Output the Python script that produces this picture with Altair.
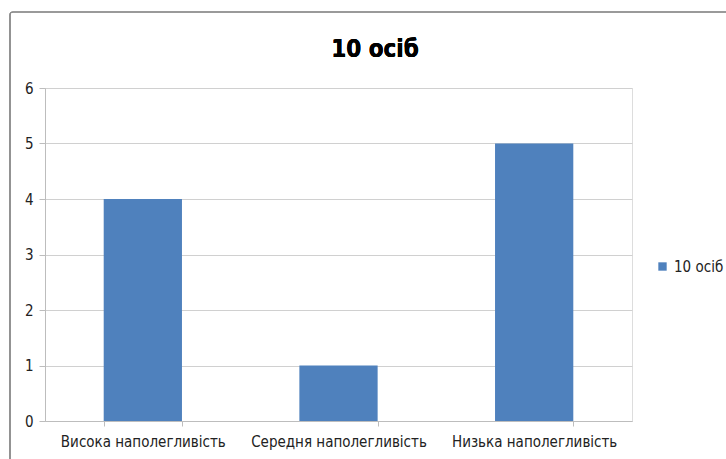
import altair as alt
import pandas as pd

# Survey result: number of people at each level of persistence
categories = ["Висока наполегливість", "Середня наполегливість", "Низька наполегливість"]
values = [4, 1, 5]
series_name = "10 осіб"

FONT = "Liberation Sans Narrow, DejaVu Sans Condensed, sans-serif"
BAR_BLUE = "#4F81BD"
GRID_GRAY = "#D0D0D0"
AXIS_GRAY = "#BDBDBD"

df = pd.DataFrame({"category": categories, "value": values, "series": [series_name] * len(categories)})

W, H = 587, 333

bars = alt.Chart(df).mark_bar(color=BAR_BLUE).encode(
    x=alt.X(
        "category:N",
        sort=categories,
        title=None,
        scale=alt.Scale(paddingInner=0.6, paddingOuter=0.3),
        axis=alt.Axis(
            labelAngle=0,
            labelFont=FONT,
            labelFontSize=15,
            labelColor="#222222",
            labelPadding=8,
            tickBand="extent",
            tickSize=5,
            tickColor=AXIS_GRAY,
            domainColor=AXIS_GRAY,
            grid=False,
        ),
    ),
    y=alt.Y(
        "value:Q",
        title=None,
        scale=alt.Scale(domain=[0, 6], nice=False),
        axis=alt.Axis(
            values=[0, 1, 2, 3, 4, 5, 6],
            labelFont=FONT,
            labelFontSize=15,
            labelColor="#222222",
            labelPadding=6,
            tickSize=6,
            tickColor=AXIS_GRAY,
            domainColor=AXIS_GRAY,
            gridColor=GRID_GRAY,
        ),
    ),
    fill=alt.Fill(
        "series:N",
        scale=alt.Scale(range=[BAR_BLUE]),
        legend=alt.Legend(
            title=None,
            orient="none",
            legendX=610,
            legendY=171,
            symbolType="square",
            symbolSize=70,
            symbolStrokeWidth=0,
            labelFont=FONT,
            labelFontSize=15,
            labelColor="#222222",
            labelOffset=4,
        ),
    ),
)

# Outer frame around the whole chart
frame = alt.Chart(df).mark_rect(
    fill=None, stroke="#8C8C8C", strokeWidth=1.2, cornerRadius=3
).encode(
    x=alt.value(-35), x2=alt.value(700), y=alt.value(-76), y2=alt.value(400)
)

# Chart title, centred across the frame
title = alt.Chart(df).mark_text(
    font=FONT, fontSize=24, fontWeight="bold", color="#000000",
    align="center", baseline="alphabetic",
).encode(
    x=alt.value(330), y=alt.value(-31), text=alt.value(series_name)
)

chart = (
    alt.layer(frame, bars, title)
    .properties(
        width=W,
        height=H,
        autosize=alt.AutoSizeParams(type="none"),
        padding={"left": 45, "top": 88, "right": 94, "bottom": 38},
    )
    .configure_view(stroke=None)
    .configure(background="white")
)

chart.save("out.html", embed_options={"renderer": "svg", "actions": False})
